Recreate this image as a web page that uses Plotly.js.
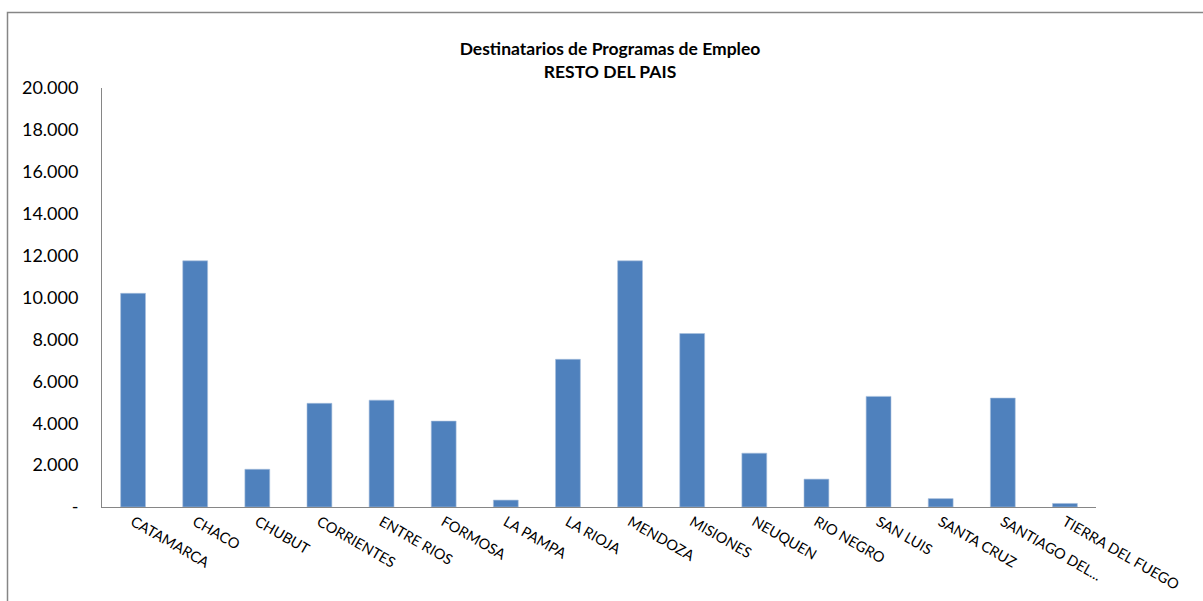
<!DOCTYPE html>
<html>
<head>
<meta charset="utf-8">
<script src="https://cdn.plot.ly/plotly-3.0.1.min.js"></script>
<style>
  html, body { margin: 0; padding: 0; background: #ffffff; }
  #chart { width: 1203px; height: 601px; }
</style>
</head>
<body>
<div id="chart"></div>
<script>
const categories = [
  "CATAMARCA", "CHACO", "CHUBUT", "CORRIENTES", "ENTRE RIOS", "FORMOSA",
  "LA PAMPA", "LA RIOJA", "MENDOZA", "MISIONES", "NEUQUEN", "RIO NEGRO",
  "SAN LUIS", "SANTA CRUZ", "SANTIAGO DEL...", "TIERRA DEL FUEGO"
];
const destinatarios = [
  10200, 11750, 1800, 4950, 5100, 4100,
  330, 7050, 11750, 8280, 2570, 1330,
  5280, 400, 5200, 170
];
const yTickValues = [0, 2000, 4000, 6000, 8000, 10000, 12000, 14000, 16000, 18000, 20000];
const yTickLabels = ["-", "2.000", "4.000", "6.000", "8.000", "10.000", "12.000", "14.000", "16.000", "18.000", "20.000"];
const chartTitle = "Destinatarios de Programas de Empleo<br>RESTO DEL PAIS";

const trace = {
  type: "bar",
  x: categories,
  y: destinatarios,
  marker: { color: "#4F81BD", line: { color: "#A7BFDE", width: 0.6 } },
  hoverinfo: "x+y"
};

const layout = {
  width: 1203,
  height: 601,
  paper_bgcolor: "#ffffff",
  plot_bgcolor: "#ffffff",
  margin: { l: 102, r: 107, t: 88, b: 94, pad: 0 },
  showlegend: false,
  bargap: 0.6,
  font: { family: "Lato, 'Open Sans', sans-serif", color: "#000000" },
  title: {
    text: chartTitle,
    font: { family: "Lato, 'Open Sans', sans-serif", size: 17.5, weight: "bold", color: "#000000" },
    xref: "container", x: 610 / 1203, xanchor: "center",
    yref: "container", y: 1 - 55 / 601, yanchor: "middle"
  },
  xaxis: {
    type: "category",
    showline: true, linecolor: "#868686", linewidth: 1,
    showgrid: false, zeroline: false,
    ticks: "",
    tickangle: 30,
    tickfont: { family: "Lato, 'Open Sans', sans-serif", size: 14.5, color: "#000000" },
    automargin: false
  },
  yaxis: {
    range: [0, 20000],
    showline: true, linecolor: "#868686", linewidth: 1,
    showgrid: false, zeroline: false,
    ticks: "",
    tickvals: yTickValues,
    ticktext: yTickLabels,
    ticklen: 0,
    ticklabelstandoff: 19,
    tickfont: { family: "Lato, 'Open Sans', sans-serif", size: 18, color: "#000000" },
    automargin: false
  },
  shapes: [{
    type: "rect", xref: "paper", yref: "paper", layer: "below",
    x0: (7.5 - 102) / 994, x1: 1.5,
    y0: -0.5, y1: (507 - 12.5) / 419,
    line: { color: "#868686", width: 1.5 },
    fillcolor: "rgba(0,0,0,0)"
  }]
};

Plotly.newPlot("chart", [trace], layout, { displayModeBar: false, staticPlot: true });
</script>
</body>
</html>
